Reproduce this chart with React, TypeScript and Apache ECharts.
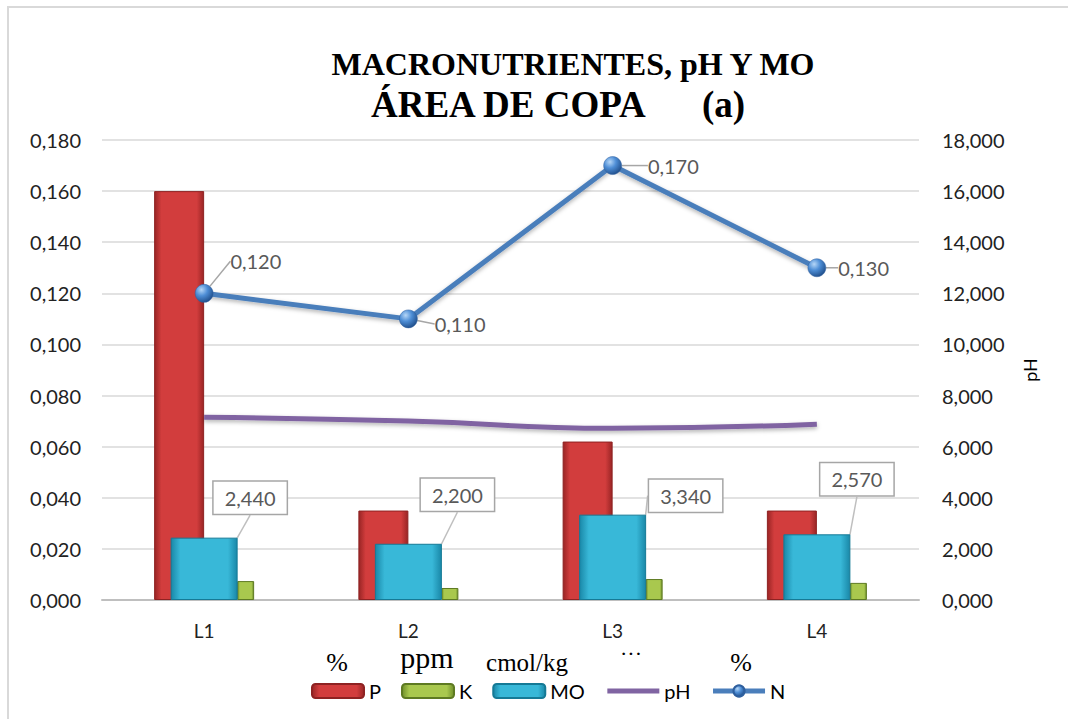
import React, { useEffect, useRef } from "react";
import * as echarts from "echarts";

const categories = ["L1", "L2", "L3", "L4"];
const pValues = [0.16, 0.035, 0.062, 0.035];
const kValues = [0.0074, 0.0047, 0.0082, 0.0067];
const moValues = [2.44, 2.2, 3.34, 2.57];
const phValues = [7.15, 7.0, 6.72, 6.88];
const nValues = [0.12, 0.11, 0.17, 0.13];
const unitLabels = ["%", "ppm", "cmol/kg", "···", "%"];

const fmt3 = (v: number) => v.toFixed(3).replace(".", ",");

const hGrad = (edge: string, mid: string) =>
  new echarts.graphic.LinearGradient(1, 0, 0, 0, [
    { offset: 0, color: edge },
    { offset: 0.14, color: mid },
    { offset: 0.86, color: mid },
    { offset: 1, color: edge },
  ]);

export default function App() {
  const ref = useRef<HTMLDivElement>(null);
  useEffect(() => {
    if (!ref.current) return;
    const chart = echarts.init(ref.current, null, { renderer: "svg" });
    const font = "Lato, 'Open Sans', sans-serif";
    const serif = "'Liberation Serif', 'Times New Roman', serif";
    const moOff = [
      [46, -19],
      [49, -28],
      [73, 2],
      [40, -34],
    ];
    const nOff = [
      [4, -32],
      [4, 5],
      [13, 0],
      [-1, 0],
    ];
    const unitX = [337, 427, 527, 631, 741];
    const unitSize = [26, 30, 25, 22, 26];
    const unitY = [662, 657, 662, 653, 662];
    chart.setOption({
      animation: false,
      backgroundColor: "#ffffff",
      grid: { left: 102, right: 149, top: 140, bottom: 119, containLabel: false },
      graphic: [
        {
          type: "rect",
          shape: { x: 8, y: 7, width: 1080, height: 740 },
          style: { fill: "none", stroke: "#D9D9D9", lineWidth: 2 },
          silent: true,
        },
        {
          type: "text",
          x: 573,
          y: 64,
          style: {
            text: "MACRONUTRIENTES, pH Y MO",
            font: `bold 32px ${serif}`,
            fill: "#000",
            align: "center",
            verticalAlign: "middle",
          },
        },
        {
          type: "text",
          x: 371,
          y: 104,
          style: {
            text: "ÁREA DE COPA",
            font: `bold 37px ${serif}`,
            fill: "#000",
            align: "left",
            verticalAlign: "middle",
          },
        },
        {
          type: "text",
          x: 702,
          y: 104,
          style: {
            text: "(a)",
            font: `bold 37px ${serif}`,
            fill: "#000",
            align: "left",
            verticalAlign: "middle",
          },
        },
        ...unitLabels.map((t, i) => ({
          type: "text",
          x: unitX[i],
          y: unitY[i],
          style: {
            text: t,
            font: `${unitSize[i]}px ${serif}`,
            fill: "#000",
            align: "center",
            verticalAlign: "middle",
          },
        })),
      ],
      legend: {
        left: 306,
        top: 676,
        itemWidth: 52,
        itemHeight: 14,
        itemGap: 20,
        data: [
          "P",
          "K",
          "MO",
          { name: "pH", itemStyle: { opacity: 0 }, lineStyle: { width: 5 } },
          { name: "N", lineStyle: { width: 5 } },
        ],
        textStyle: { fontFamily: font, fontSize: 20, color: "#000" },
      },
      xAxis: [
        {
          type: "category",
          data: categories,
          axisLine: { lineStyle: { color: "#BFBFBF", width: 2 } },
          axisTick: { show: false },
          axisLabel: { fontFamily: font, fontSize: 19, color: "#222", margin: 21 },
        },
        {
          type: "category",
          data: categories,
          show: false,
        },
      ],
      yAxis: [
        {
          type: "value",
          min: 0,
          max: 0.18,
          interval: 0.02,
          axisLine: { show: false },
          axisTick: { show: false },
          splitLine: { lineStyle: { color: "#D9D9D9", width: 1.5 } },
          axisLabel: {
            fontFamily: font,
            fontSize: 20,
            color: "#222",
            margin: 21,
            formatter: (v: number) => fmt3(v),
          },
        },
        {
          type: "value",
          min: 0,
          max: 18,
          interval: 2,
          name: "pH",
          nameLocation: "middle",
          nameRotate: 90,
          nameGap: 102,
          nameTextStyle: { fontFamily: font, fontSize: 18, color: "#000" },
          axisLine: { show: false },
          axisTick: { show: false },
          splitLine: { show: false },
          axisLabel: {
            fontFamily: font,
            fontSize: 20,
            color: "#222",
            margin: 23,
            formatter: (v: number) => fmt3(v),
          },
        },
      ],
      series: [
        {
          name: "P",
          type: "bar",
          xAxisIndex: 0,
          yAxisIndex: 0,
          barWidth: 50,
          barGap: "66%",
          data: pValues,
          itemStyle: { color: hGrad("#9A2525", "#D23D3D"), borderColor: "#8E2222", borderWidth: 1 },
        },
        {
          name: "K",
          type: "bar",
          xAxisIndex: 0,
          yAxisIndex: 0,
          barWidth: 17,
          barGap: "66%",
          data: kValues,
          itemStyle: { color: hGrad("#6F8F2A", "#A9C84E"), borderColor: "#5E7A22", borderWidth: 1 },
        },
        {
          name: "MO",
          type: "bar",
          xAxisIndex: 1,
          yAxisIndex: 1,
          barWidth: 67,
          data: moValues,
          z: 3,
          itemStyle: { color: hGrad("#1A88A8", "#38B8D8"), borderColor: "#157A96", borderWidth: 1 },
          label: {
            show: true,
            position: "top",
            distance: 5,
            formatter: (p: any) => fmt3(p.value),
            fontFamily: font,
            fontSize: 20,
            color: "#595959",
            backgroundColor: "#fff",
            borderColor: "#A6A6A6",
            borderWidth: 1.5,
            padding: [6, 11, 6, 11],
          },
          labelLine: { show: true, lineStyle: { color: "#BFBFBF", width: 1.5 } },
          labelLayout: (params: any) => {
            const o = moOff[params.dataIndex];
            return { dx: o[0], dy: o[1] };
          },
        },
        {
          name: "pH",
          type: "line",
          yAxisIndex: 1,
          data: phValues,
          smooth: true,
          symbol: "none",
          z: 4,
          itemStyle: { color: "#8064A2" },
          lineStyle: {
            color: "#8064A2",
            width: 5,
            shadowColor: "rgba(0,0,0,0.3)",
            shadowBlur: 4,
            shadowOffsetY: 2,
          },
        },
        {
          name: "N",
          type: "line",
          yAxisIndex: 0,
          data: nValues,
          symbol: "circle",
          symbolSize: 18,
          z: 5,
          lineStyle: {
            color: "#4A7EBB",
            width: 5,
            shadowColor: "rgba(0,0,0,0.3)",
            shadowBlur: 4,
            shadowOffsetY: 2,
          },
          itemStyle: {
            color: new echarts.graphic.RadialGradient(0.35, 0.3, 0.75, [
              { offset: 0, color: "#B5D6F7" },
              { offset: 0.45, color: "#4E8ED6" },
              { offset: 1, color: "#1E4C88" },
            ]),
            borderColor: "#2E5F9E",
            borderWidth: 0.5,
          },
          label: {
            show: true,
            position: "right",
            distance: 13,
            formatter: (p: any) => fmt3(p.value),
            fontFamily: font,
            fontSize: 20,
            color: "#595959",
          },
          labelLine: { show: true, lineStyle: { color: "#A6A6A6", width: 1.5 } },
          labelLayout: (params: any) => {
            const o = nOff[params.dataIndex];
            return { dx: o[0], dy: o[1] };
          },
        },
      ],
    });
    return () => chart.dispose();
  }, []);
  return (
    <div
      ref={ref}
      style={{ position: "absolute", left: 0, top: 0, width: 1068, height: 719 }}
    />
  );
}
